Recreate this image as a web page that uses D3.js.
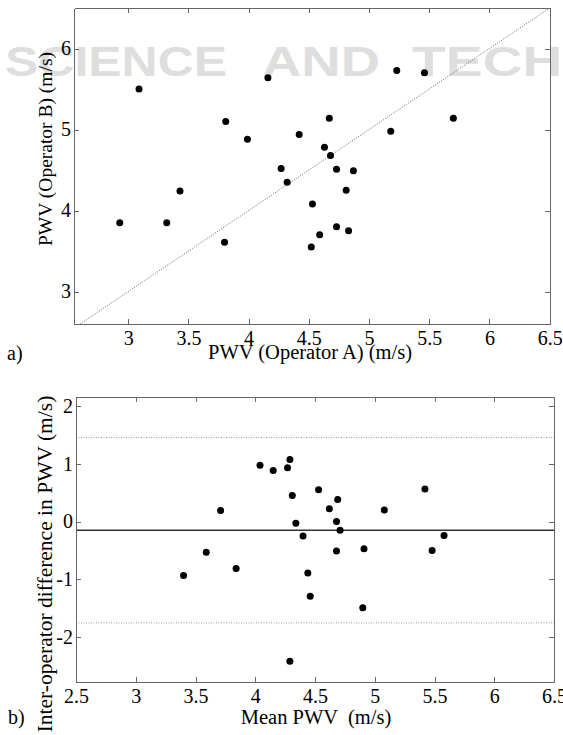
<!DOCTYPE html>
<html>
<head>
<meta charset="utf-8">
<title>PWV inter-operator agreement</title>
<script src="https://cdn.jsdelivr.net/npm/d3@7"></script>
<style>
  body { margin: 0; background: #fff; }
  svg { display: block; font-family: "Liberation Serif", "Times New Roman", serif; }
  .frame path, .frame line { stroke: #666; shape-rendering: crispEdges; }
  .frame text { fill: #000; font-size: 20px; font-family: "Liberation Serif", serif; }
</style>
</head>
<body>
<svg width="563" height="735"></svg>
<script>
// --- data ---
// a) operator A vs operator B
var pwvA = [3.09, 4.16, 3.81, 3.99, 4.42, 4.27, 4.32, 3.43, 2.93, 3.32, 3.80, 5.23, 5.46,
            4.67, 5.70, 5.18, 4.63, 4.68, 4.73, 4.87, 4.81, 4.53, 4.59, 4.73, 4.83, 4.52];
var pwvB = [5.50, 5.64, 5.10, 4.88, 4.94, 4.52, 4.35, 4.24, 3.85, 3.85, 3.61, 5.73, 5.70,
            5.14, 5.14, 4.98, 4.78, 4.68, 4.51, 4.49, 4.25, 4.08, 3.70, 3.80, 3.75, 3.55];
var identity = [2.55, 6.5];

// b) Bland-Altman
var meanPWV = [4.04, 4.15, 4.27, 4.29, 4.31, 3.71, 4.34, 4.40, 3.59, 4.53, 4.69, 4.62, 4.68,
               4.71, 5.08, 5.42, 5.58, 5.48, 4.68, 4.91, 3.40, 3.84, 4.44, 4.46, 4.90, 4.29];
var diffPWV = [0.97, 0.88, 0.93, 1.07, 0.45, 0.19, -0.03, -0.25, -0.53, 0.55, 0.38, 0.22, 0.00,
               -0.15, 0.20, 0.56, -0.24, -0.50, -0.51, -0.47, -0.93, -0.81, -0.89, -1.29, -1.49, -2.41];
var biasLine = -0.15;
var limitLines = [1.45, -1.75];

var xTicksA = [3, 3.5, 4, 4.5, 5, 5.5, 6, 6.5];
var yTicksA = [3, 4, 5, 6];
var xTicksB = [2.5, 3, 3.5, 4, 4.5, 5, 5.5, 6, 6.5];
var yTicksB = [-2, -1, 0, 1, 2];

var svg = d3.select("svg");

// faint publisher watermark behind the plots
var wm = svg.append("g")
    .attr("fill", "#dedede")
    .attr("font-family", "Liberation Sans, Arial, sans-serif")
    .attr("font-weight", "bold")
    .attr("font-size", 42);
wm.append("text").attr("x", 5).attr("y", 76).attr("textLength", 222)
    .attr("lengthAdjust", "spacingAndGlyphs").text("SCIENCE");
wm.append("text").attr("x", 262).attr("y", 76).attr("textLength", 118)
    .attr("lengthAdjust", "spacingAndGlyphs").text("AND");
wm.append("text").attr("x", 412).attr("y", 76).attr("textLength", 390)
    .attr("lengthAdjust", "spacingAndGlyphs").text("TECHNOLOGY");

function frame(g, x, y, xt, yt) {
  var fmt = function(d) { return String(d); };
  var x0 = x.range()[0], x1 = x.range()[1], y0 = y.range()[0], y1 = y.range()[1];
  g.append("g").attr("class", "frame").attr("transform", "translate(0," + y0 + ")")
    .call(d3.axisBottom(x).tickValues(xt).tickFormat(fmt).tickSize(-5).tickSizeOuter(0).tickPadding(7));
  g.append("g").attr("class", "frame").attr("transform", "translate(0," + y1 + ")")
    .call(d3.axisTop(x).tickValues(xt).tickFormat("").tickSize(-5).tickSizeOuter(0));
  g.append("g").attr("class", "frame").attr("transform", "translate(" + x0 + ",0)")
    .call(d3.axisLeft(y).tickValues(yt).tickFormat(fmt).tickSize(-5).tickSizeOuter(0).tickPadding(3));
  g.append("g").attr("class", "frame").attr("transform", "translate(" + x1 + ",0)")
    .call(d3.axisRight(y).tickValues(yt).tickFormat("").tickSize(-5).tickSizeOuter(0));
}

// ---------- a) ----------
var xA = d3.scaleLinear().domain([2.55, 6.5]).range([74, 549.7]);
var yA = d3.scaleLinear().domain([2.6, 6.5]).range([324, 8]);
var gA = svg.append("g");

gA.append("clipPath").attr("id", "clipA").append("rect")
    .attr("x", xA.range()[0]).attr("y", yA.range()[1])
    .attr("width", xA.range()[1] - xA.range()[0]).attr("height", yA.range()[0] - yA.range()[1]);

gA.append("path")
    .datum(identity)
    .attr("clip-path", "url(#clipA)")
    .attr("fill", "none")
    .attr("stroke", "#666")
    .attr("stroke-width", 1)
    .attr("stroke-dasharray", "1,1.5")
    .attr("d", d3.line().x(function(d) { return xA(d); }).y(function(d) { return yA(d); }));

frame(gA, xA, yA, xTicksA, yTicksA);

gA.selectAll("circle")
  .data(pwvA)
  .enter().append("circle")
    .attr("cx", function(d) { return xA(d); })
    .attr("cy", function(d, i) { return yA(pwvB[i]); })
    .attr("r", 3.5)
    .attr("fill", "#000");

gA.append("text")
    .attr("x", 310).attr("y", 359)
    .attr("text-anchor", "middle").attr("font-size", 20.5)
    .text("PWV (Operator A) (m/s)");
gA.append("text")
    .attr("transform", "translate(52,149) rotate(-90)")
    .attr("text-anchor", "middle").attr("font-size", 19.5)
    .text("PWV (Operator B) (m/s)");
gA.append("text")
    .attr("x", 7).attr("y", 360).attr("font-size", 20)
    .text("a)");

// ---------- b) ----------
var xB = d3.scaleLinear().domain([2.5, 6.5]).range([76, 554]);
var yB = d3.scaleLinear().domain([-2.77, 2.15]).range([682, 397]);
var gB = svg.append("g");

gB.selectAll("line.loa")
  .data(limitLines)
  .enter().append("line")
    .attr("class", "loa")
    .attr("x1", xB.range()[0]).attr("x2", xB.range()[1])
    .attr("y1", function(d) { return yB(d); })
    .attr("y2", function(d) { return yB(d); })
    .attr("stroke", "#999")
    .attr("stroke-dasharray", "1,1.5");

gB.append("line")
    .attr("x1", xB.range()[0]).attr("x2", xB.range()[1])
    .attr("y1", yB(biasLine)).attr("y2", yB(biasLine))
    .attr("stroke", "#333")
    .attr("stroke-width", 1.4);

frame(gB, xB, yB, xTicksB, yTicksB);

gB.selectAll("circle")
  .data(meanPWV)
  .enter().append("circle")
    .attr("cx", function(d) { return xB(d); })
    .attr("cy", function(d, i) { return yB(diffPWV[i]); })
    .attr("r", 3.5)
    .attr("fill", "#000");

gB.append("text")
    .attr("x", 316).attr("y", 724)
    .attr("text-anchor", "middle").attr("font-size", 20.5)
    .style("white-space", "pre")
    .text("Mean PWV  (m/s)");
gB.append("text")
    .attr("transform", "translate(52,564) rotate(-90)")
    .attr("text-anchor", "middle").attr("font-size", 21.5)
    .text("Inter-operator difference in PWV (m/s)");
gB.append("text")
    .attr("x", 8).attr("y", 724).attr("font-size", 20)
    .text("b)");
</script>
</body>
</html>
